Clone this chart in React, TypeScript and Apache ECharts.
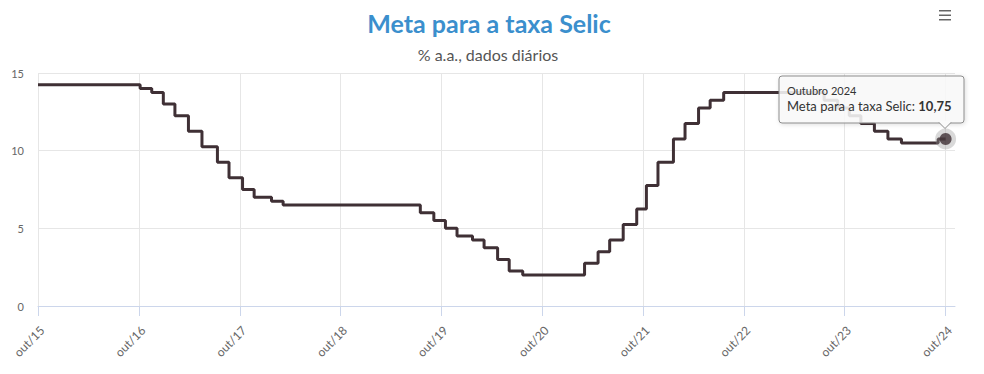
import React, { useEffect, useRef } from "react";
import * as echarts from "echarts";

const changeDates = [
  "2015-10-16", "2016-10-20", "2016-12-01", "2017-01-12", "2017-02-23", "2017-04-13",
  "2017-06-01", "2017-07-27", "2017-09-07", "2017-10-26", "2017-12-07", "2018-02-08",
  "2018-03-22", "2019-08-01", "2019-09-19", "2019-10-31", "2019-12-12", "2020-02-06",
  "2020-03-19", "2020-05-07", "2020-06-18", "2020-08-06", "2021-03-18", "2021-05-06",
  "2021-06-17", "2021-08-05", "2021-09-23", "2021-10-28", "2021-12-09", "2022-02-03",
  "2022-03-17", "2022-05-05", "2022-06-16", "2022-08-04", "2023-08-03", "2023-09-21",
  "2023-11-02", "2023-12-14", "2024-02-01", "2024-03-21", "2024-05-09", "2024-09-19",
  "2024-10-16",
];
const selicValues = [
  14.25, 14.0, 13.75, 13.0, 12.25, 11.25,
  10.25, 9.25, 8.25, 7.5, 7.0, 6.75,
  6.5, 6.0, 5.5, 5.0, 4.5, 4.25,
  3.75, 3.0, 2.25, 2.0, 2.75, 3.5,
  4.25, 5.25, 6.25, 7.75, 9.25, 10.75,
  11.75, 12.75, 13.25, 13.75, 13.25, 12.75,
  12.25, 11.75, 11.25, 10.75, 10.5, 10.75,
  10.75,
];
const xTickDates = [
  "2015-10-16", "2016-10-16", "2017-10-16", "2018-10-16", "2019-10-16",
  "2020-10-16", "2021-10-16", "2022-10-16", "2023-10-16", "2024-10-16",
];
const xTickLabels = [
  "out/15", "out/16", "out/17", "out/18", "out/19",
  "out/20", "out/21", "out/22", "out/23", "out/24",
];
const yTicks = [0, 5, 10, 15];
const tooltipTitle = "Outubro 2024";
const tooltipSeries = "Meta para a taxa Selic";
const tooltipValue = "10,75";

const toTs = (s: string) => {
  const [y, m, d] = s.split("-").map(Number);
  return Date.UTC(y, m - 1, d);
};

export default function App() {
  const ref = useRef<HTMLDivElement>(null);
  useEffect(() => {
    if (!ref.current) return;
    const chart = echarts.init(ref.current, null, { renderer: "svg" });
    const tickTs = xTickDates.map(toTs);
    const data = changeDates.map((d, i) => [toTs(d), selicValues[i]]);
    const last = data[data.length - 1];
    const font = "Lato, 'Open Sans', sans-serif";
    chart.setOption({
      animation: false,
      textStyle: { fontFamily: font },
      title: [
        {
          text: "Meta para a taxa Selic",
          left: 484,
          textAlign: "center",
          top: 5,
          textStyle: { color: "#3b8fcd", fontSize: 25, fontWeight: "bold", fontFamily: font },
        },
        {
          text: "% a.a., dados diários",
          left: 483,
          textAlign: "center",
          top: 41,
          textStyle: { color: "#555555", fontSize: 16, fontWeight: "normal", fontFamily: font },
        },
      ],
      grid: { left: 38, right: 29, top: 73, bottom: 68, containLabel: false },
      xAxis: {
        type: "value",
        min: toTs("2015-10-16"),
        max: toTs("2024-11-19"),
        axisLine: { show: true, lineStyle: { color: "#ccd6eb", width: 1 } },
        axisTick: {
          show: true,
          length: 10,
          lineStyle: { color: "#ccd6eb" },
          customValues: tickTs,
        },
        axisLabel: {
          customValues: tickTs,
          rotate: 45,
          margin: 18,
          verticalAlign: "top",
          color: "#666666",
          fontSize: 12,
          fontFamily: font,
          formatter: (v: number) => {
            const i = tickTs.findIndex((t) => Math.abs(t - v) < 86400000);
            return i >= 0 ? xTickLabels[i] : "";
          },
        },
        splitLine: { show: true, lineStyle: { color: "#e6e6e6", width: 1 } },
      },
      yAxis: {
        type: "value",
        min: yTicks[0],
        max: yTicks[yTicks.length - 1],
        interval: 5,
        axisLine: { show: false },
        axisTick: { show: false },
        axisLabel: { color: "#666666", fontSize: 11, margin: 14, fontFamily: font },
        splitLine: { show: true, lineStyle: { color: "#e6e6e6", width: 1 } },
      },
      series: [
        {
          type: "line",
          step: "end",
          data,
          showSymbol: false,
          symbol: "none",
          lineStyle: { color: "#3f3035", width: 3 },
          z: 2,
        },
        {
          type: "scatter",
          data: [last],
          symbol: "circle",
          symbolSize: 21,
          itemStyle: { color: "rgba(150,150,150,0.45)" },
          z: 3,
        },
        {
          type: "scatter",
          data: [last],
          symbol: "circle",
          symbolSize: 12,
          itemStyle: { color: "#3f3035" },
          z: 4,
        },
      ],
      graphic: [
        {
          type: "group",
          z: 100,
          children: [
            {
              type: "rect",
              z: 100,
              shape: { x: 779, y: 76, width: 185, height: 47, r: 3 },
              style: {
                fill: "rgba(250,250,250,0.86)",
                stroke: "#8c8c8c",
                lineWidth: 1,
                shadowBlur: 4,
                shadowOffsetX: 1,
                shadowOffsetY: 1,
                shadowColor: "rgba(0,0,0,0.15)",
              },
            },
            {
              type: "polygon",
              z: 101,
              shape: { points: [[939, 122.5], [951, 122.5], [945, 128.5]] },
              style: { fill: "rgba(250,250,250,1)", stroke: "#8c8c8c", lineWidth: 1 },
            },
            {
              type: "rect",
              z: 102,
              shape: { x: 939.5, y: 121, width: 11, height: 2 },
              style: { fill: "rgb(250,250,250)" },
            },
            {
              type: "text",
              z: 103,
              x: 787,
              y: 90,
              style: {
                text: tooltipTitle,
                fill: "#333333",
                fontSize: 11,
                fontFamily: font,
                verticalAlign: "middle",
              },
            },
            {
              type: "text",
              z: 103,
              x: 787,
              y: 106,
              style: {
                text: `{a|${tooltipSeries}: }{b|${tooltipValue}}`,
                verticalAlign: "middle",
                rich: {
                  a: { fill: "#333333", fontSize: 13, fontFamily: font },
                  b: { fill: "#333333", fontSize: 13, fontWeight: "bold", fontFamily: font },
                },
              },
            },
          ],
        },
        {
          type: "group",
          children: [
            { type: "rect", shape: { x: 939, y: 10, width: 12, height: 1.5 }, style: { fill: "#666666" } },
            { type: "rect", shape: { x: 939, y: 14.5, width: 12, height: 1.5 }, style: { fill: "#666666" } },
            { type: "rect", shape: { x: 939, y: 19, width: 12, height: 1.5 }, style: { fill: "#666666" } },
          ],
        },
      ],
    });
    return () => chart.dispose();
  }, []);
  return <div ref={ref} style={{ width: 984, height: 374, margin: -8 }} />;
}
